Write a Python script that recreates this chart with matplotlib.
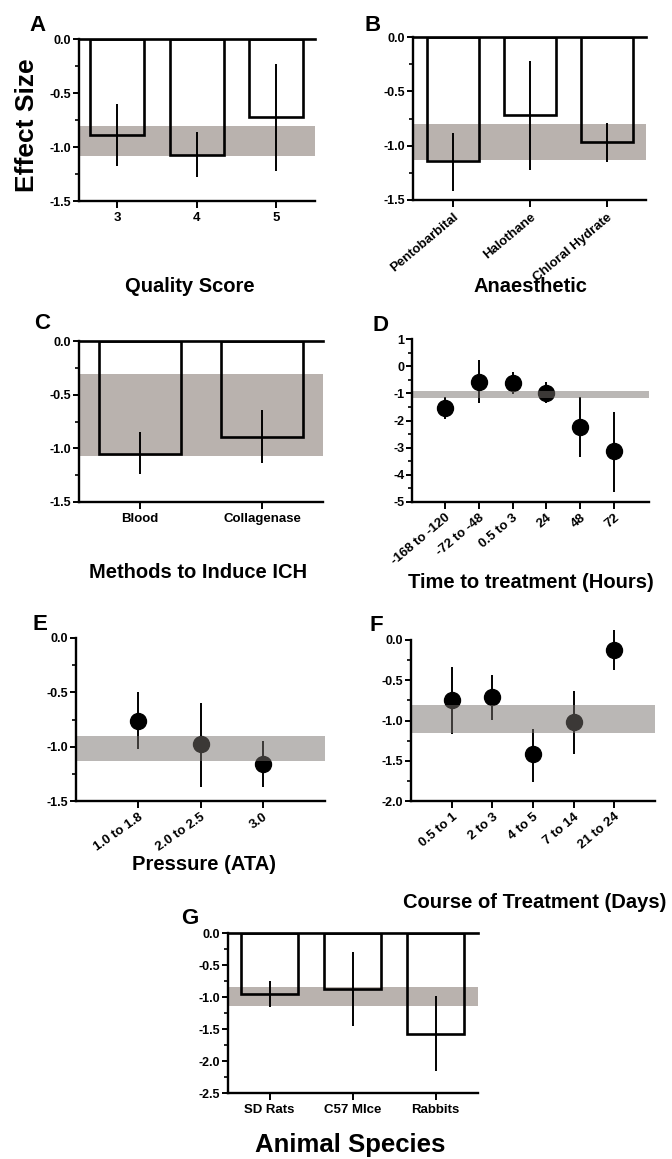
import matplotlib.pyplot as plt
from matplotlib.ticker import MultipleLocator, FormatStrFormatter

plt.rcParams['font.family'] = ['Liberation Sans', 'DejaVu Sans']
plt.rcParams['font.weight'] = 'bold'
plt.rcParams['axes.unicode_minus'] = False

# --- data (effect size, 95% CI, pooled estimate band) ---
quality_labels = ['3', '4', '5']
quality_es = [-0.89, -1.07, -0.72]
quality_lo = [-1.18, -1.28, -1.22]
quality_hi = [-0.60, -0.86, -0.23]
quality_band = (-1.08, -0.81)

anaes_labels = ['Pentobarbital', 'Halothane', 'Chloral Hydrate']
anaes_es = [-1.14, -0.72, -0.97]
anaes_lo = [-1.42, -1.22, -1.15]
anaes_hi = [-0.88, -0.22, -0.79]
anaes_band = (-1.13, -0.80)

method_labels = ['Blood', 'Collagenase']
method_es = [-1.05, -0.89]
method_lo = [-1.24, -1.14]
method_hi = [-0.85, -0.64]
method_band = (-1.07, -0.31)

time_labels = ['-168 to -120', '-72 to -48', '0.5 to 3', '24', '48', '72']
time_es = [-1.55, -0.58, -0.63, -0.97, -2.23, -3.13]
time_lo = [-1.94, -1.37, -1.03, -1.37, -3.34, -4.63]
time_hi = [-1.12, 0.24, -0.23, -0.59, -1.12, -1.70]
time_band = (-1.16, -0.90)

press_labels = ['1.0 to 1.8', '2.0 to 2.5', '3.0']
press_es = [-0.76, -0.98, -1.16]
press_lo = [-1.02, -1.37, -1.37]
press_hi = [-0.50, -0.60, -0.95]
press_band = (-1.13, -0.90)

course_labels = ['0.5 to 1', '2 to 3', '4 to 5', '7 to 14', '21 to 24']
course_es = [-0.75, -0.71, -1.42, -1.02, -0.12]
course_lo = [-1.17, -0.99, -1.76, -1.42, -0.37]
course_hi = [-0.33, -0.44, -1.10, -0.63, 0.12]
course_band = (-1.16, -0.81)

species_labels = ['SD Rats', 'C57 MIce', 'Rabbits']
species_es = [-0.96, -0.88, -1.58]
species_lo = [-1.15, -1.45, -2.16]
species_hi = [-0.75, -0.30, -0.98]
species_band = (-1.14, -0.84)

W, H = 672, 1159
BAND = '#b9b2ae'

fig = plt.figure(figsize=(W / 100, H / 100), dpi=100)


def make_ax(l, t, r, b):
    # axes box given in pixel coordinates (top-left origin)
    return fig.add_axes([l / W, 1 - b / H, (r - l) / W, (b - t) / H])


def style(ax, ylim, major, minor, fmt):
    ax.set_ylim(*ylim)
    ax.spines[['top', 'right']].set_visible(False)
    for s in ('left', 'bottom'):
        ax.spines[s].set_linewidth(1.7)
        ax.spines[s].set_zorder(6)
    ax.yaxis.set_major_locator(MultipleLocator(major))
    ax.yaxis.set_minor_locator(MultipleLocator(minor))
    ax.yaxis.set_major_formatter(FormatStrFormatter(fmt))
    ax.tick_params(axis='both', which='major', width=1.4, length=4, labelsize=9, pad=1.5)
    ax.tick_params(axis='y', which='minor', width=1.2, length=3)
    ax.tick_params(axis='x', which='minor', bottom=False)


def bar_panel(ax, labels, es, lo, hi, band, xlim, ylim, fmt='%.1f', rot=0):
    x = list(range(len(labels)))
    ax.axhspan(band[0], band[1], color=BAND, lw=0, zorder=0)
    ax.bar(x, es, width=0.68, fill=False, edgecolor='black', lw=1.9, zorder=2)
    ax.vlines(x, lo, hi, color='black', lw=1.4, zorder=3)
    ax.axhline(0, color='black', lw=1.9, zorder=4, clip_on=False)
    ax.set_xlim(*xlim)
    style(ax, ylim, 0.5, 0.25, fmt)
    ax.set_xticks(x)
    if rot:
        ax.set_xticklabels(labels, rotation=rot, ha='right', rotation_mode='anchor', fontsize=9.5)
    else:
        ax.set_xticklabels(labels, fontsize=9.5)
    ax.tick_params(axis='x', length=5, pad=3)


def dot_panel(ax, labels, es, lo, hi, band, xlim, ylim, major, minor, fmt, rot=40):
    x = list(range(len(labels)))
    # translucent band on top, so points inside it look greyed
    ax.axhspan(band[0], band[1], color='#76706c', alpha=0.5, lw=0, zorder=5)
    ax.vlines(x, lo, hi, color='black', lw=1.4, zorder=3, clip_on=False)
    ax.plot(x, es, 'o', ms=11.5, color='black', zorder=4, clip_on=False)
    ax.set_xlim(*xlim)
    style(ax, ylim, major, minor, fmt)
    ax.set_xticks(x)
    ax.set_xticklabels(labels, rotation=rot, ha='right', rotation_mode='anchor', fontsize=9.5)
    ax.tick_params(axis='x', length=5, pad=2)


# A - quality score
axA = make_ax(79, 39, 315, 201)
bar_panel(axA, quality_labels, quality_es, quality_lo, quality_hi, quality_band,
          (-0.48, 2.49), (-1.5, 0))

# B - anaesthetic
axB = make_ax(413, 37, 646, 200)
bar_panel(axB, anaes_labels, anaes_es, anaes_lo, anaes_hi, anaes_band,
          (-0.52, 2.51), (-1.5, 0), rot=40)

# C - method of induction
axC = make_ax(79, 341, 323, 502)
bar_panel(axC, method_labels, method_es, method_lo, method_hi, method_band,
          (-0.5, 1.5), (-1.5, 0))

# D - time to treatment
axD = make_ax(412, 339, 649, 502)
dot_panel(axD, time_labels, time_es, time_lo, time_hi, time_band,
          (-0.98, 6.04), (-5, 1), 1, 0.5, '%d')

# E - pressure
axE = make_ax(76, 638, 325, 801)
dot_panel(axE, press_labels, press_es, press_lo, press_hi, press_band,
          (-1, 3), (-1.5, 0), 0.5, 0.25, '%.1f', rot=35)

# F - course of treatment
axF = make_ax(411, 640, 655, 801)
dot_panel(axF, course_labels, course_es, course_lo, course_hi, course_band,
          (-1, 5), (-2, 0), 0.5, 0.25, '%.1f')

# G - species
axG = make_ax(228, 933, 478, 1093)
bar_panel(axG, species_labels, species_es, species_lo, species_hi, species_band,
          (-0.5, 2.51), (-2.5, 0))


def ftext(x, y, s, **kw):
    fig.text(x / W, 1 - y / H, s, **kw)


for letter, (lx, ly) in {'A': (29, 31), 'B': (364, 31), 'C': (34, 329), 'D': (372, 331),
                         'E': (32, 630), 'F': (369, 631), 'G': (181, 924)}.items():
    ftext(lx, ly, letter, fontsize=16, fontweight='bold', ha='left', va='baseline')

ftext(27, 125, 'Effect Size', fontsize=19, fontweight='bold', rotation=90, ha='center', va='center')

xlabels = [('Quality Score', 190, 287), ('Anaesthetic', 530, 286),
           ('Methods to Induce ICH', 198, 573), ('Time to treatment (Hours)', 531, 583),
           ('Pressure (ATA)', 204, 865), ('Course of Treatment (Days)', 535, 903)]
for s, lx, ly in xlabels:
    ftext(lx, ly, s, fontsize=14.5, fontweight='bold', ha='center', va='center')
ftext(350, 1145, 'Animal Species', fontsize=18.5, fontweight='bold', ha='center', va='center')

plt.savefig('out.png', dpi=100, facecolor='white')
